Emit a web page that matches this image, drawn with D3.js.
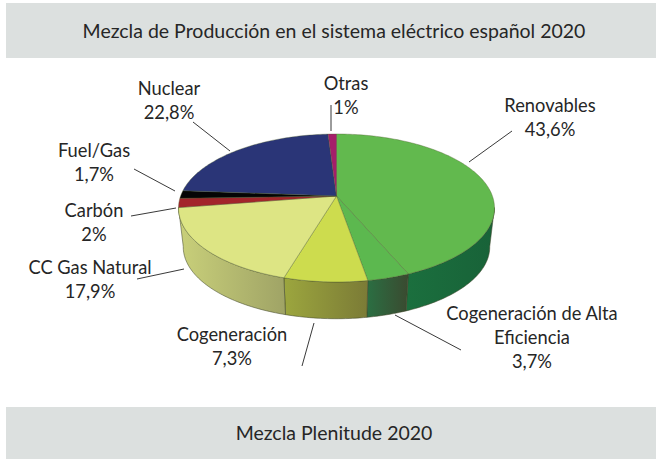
<!DOCTYPE html>
<html lang="es">
<head>
    <meta charset="UTF-8">
    <title>Mezcla de Producción 2020</title>
    <script src="https://cdn.jsdelivr.net/npm/d3@7"></script>
    <style>
        html, body { margin: 0; padding: 0; background: #fff; }
        svg { display: block; }
        text { font-family: Lato, sans-serif; fill: #262626; text-anchor: middle; }
        .title { font-size: 19.5px; }
        .label { font-size: 18.3px; }
    </style>
</head>
<body>
<script>
    // values, clockwise from the top of the pie
    const categories = ["Renovables", "Cogeneración de Alta Eficiencia", "Cogeneración", "CC Gas Natural", "Carbón", "Fuel/Gas", "Nuclear", "Otras"];
    const values = [43.6, 3.7, 7.3, 17.9, 2, 1.7, 22.8, 1];

    const topColors = ["#62b94e", "#5cb84f", "#cddc4e", "#dde584", "#a3242b", "#050505", "#2a3577", "#a51e6a"];
    // wall gradients, left to right on screen
    const wallColors = [["#1b6f3e", "#186238"], ["#2b6e42", "#3a4a30"], ["#9ca63e", "#7b7b36"], ["#c9d07a", "#a0a466"],
        ["#7a1b20", "#7a1b20"], ["#000", "#000"], ["#1c2552", "#1c2552"], ["#701548", "#701548"]];

    // label layout: [x, first baseline], text lines are split on "|"
    const labelText = ["Renovables", "Cogeneración de Alta|Eficiencia", "Cogeneración", "CC Gas Natural", "Carbón", "Fuel/Gas", "Nuclear", "Otras"];
    const labelPos = [[550, 112], [532, 320], [232, 341], [90, 274], [94, 217], [94, 157], [169, 95], [346, 90]];
    const leaders = [[512, 131, 469, 162], [395, 315, 461, 350], [314, 323, 302, 366], [137, 279, 184, 269],
        [131, 216, 176, 208], [134, 169, 175, 191], [193, 122, 230, 151], [331, 105, 331, 131]];

    const width = 656, height = 459;
    const cx = 336.5, rx = 155.9;
    const apexY = 196, ky = 40.3, k = -0.162;   // perspective of the tilted disc
    const baseScale = 0.97, baseY = 246, rimY = 207;

    const svg = d3.select("body").append("svg").attr("width", width).attr("height", height);
    const defs = svg.append("defs");

    // disc angle (0 = top, clockwise) to screen
    function topPoint(a) {
        const u = Math.sin(a), v = -Math.cos(a), d = 1 + k * v;
        return [cx + rx * u / d, (apexY + ky * v) / d];
    }
    function basePoint(a) {
        const p = topPoint(a);
        return [cx + (p[0] - cx) * baseScale, baseY + (p[1] - rimY) * baseScale];
    }
    function sample(a0, a1) {
        const n = Math.max(2, Math.ceil((a1 - a0) / 0.02));
        return d3.range(n + 1).map(i => a0 + (a1 - a0) * i / n);
    }

    const line = d3.line();
    const arcs = d3.pie().sort(null).value(d => d)(values);

    // header bands
    svg.append("rect").attr("x", 6).attr("y", 3).attr("width", 650).attr("height", 55).attr("fill", "#dce0df");
    svg.append("rect").attr("x", 6).attr("y", 407).attr("width", 650).attr("height", 52).attr("fill", "#dce0df");
    svg.append("text").attr("class", "title").attr("x", 334).attr("y", 38).text("Mezcla de Producción en el sistema eléctrico español 2020");
    svg.append("text").attr("class", "title").attr("x", 334).attr("y", 440).text("Mezcla Plenitude 2020");

    // side walls (only the front of the disc shows)
    const wallMin = Math.PI * 0.55, wallMax = Math.PI * 1.45;
    const walls = svg.append("g");
    arcs.forEach((d, i) => {
        const a0 = Math.max(d.startAngle, wallMin), a1 = Math.min(d.endAngle, wallMax);
        if (a1 <= a0) return;
        const angles = sample(a0, a1);
        const xs = [topPoint(a0)[0], topPoint(a1)[0]];
        const grad = defs.append("linearGradient").attr("id", "wall" + i)
            .attr("gradientUnits", "userSpaceOnUse")
            .attr("x1", d3.min(xs)).attr("x2", d3.max(xs)).attr("y1", 0).attr("y2", 0);
        grad.append("stop").attr("offset", 0).attr("stop-color", wallColors[i][0]);
        grad.append("stop").attr("offset", 1).attr("stop-color", wallColors[i][1]);
        const pts = angles.map(topPoint).concat(angles.slice().reverse().map(basePoint));
        walls.append("path").attr("d", line(pts) + "Z")
            .attr("fill", "url(#wall" + i + ")")
            .attr("stroke", "#3d4326").attr("stroke-width", 0.7).attr("stroke-opacity", 0.75);
    });

    // top face
    svg.append("g").selectAll("path").data(arcs).join("path")
        .attr("d", d => line([[cx, apexY]].concat(sample(d.startAngle, d.endAngle).map(topPoint))) + "Z")
        .attr("fill", (d, i) => topColors[i])
        .attr("stroke", "#4b5a2a").attr("stroke-width", 0.6).attr("stroke-opacity", 0.6);

    // leader lines
    svg.append("g").selectAll("line").data(leaders).join("line")
        .attr("x1", d => d[0]).attr("y1", d => d[1]).attr("x2", d => d[2]).attr("y2", d => d[3])
        .attr("stroke", "#222").attr("stroke-width", 0.9);

    // labels
    const lineGap = 24;
    categories.forEach((c, i) => {
        const rows = labelText[i].split("|").concat(String(values[i]).replace(".", ",") + "%");
        const t = svg.append("text").attr("class", "label");
        rows.forEach((r, j) => {
            t.append("tspan").attr("x", labelPos[i][0]).attr("y", labelPos[i][1] + j * lineGap).text(r);
        });
    });
</script>
</body>
</html>
